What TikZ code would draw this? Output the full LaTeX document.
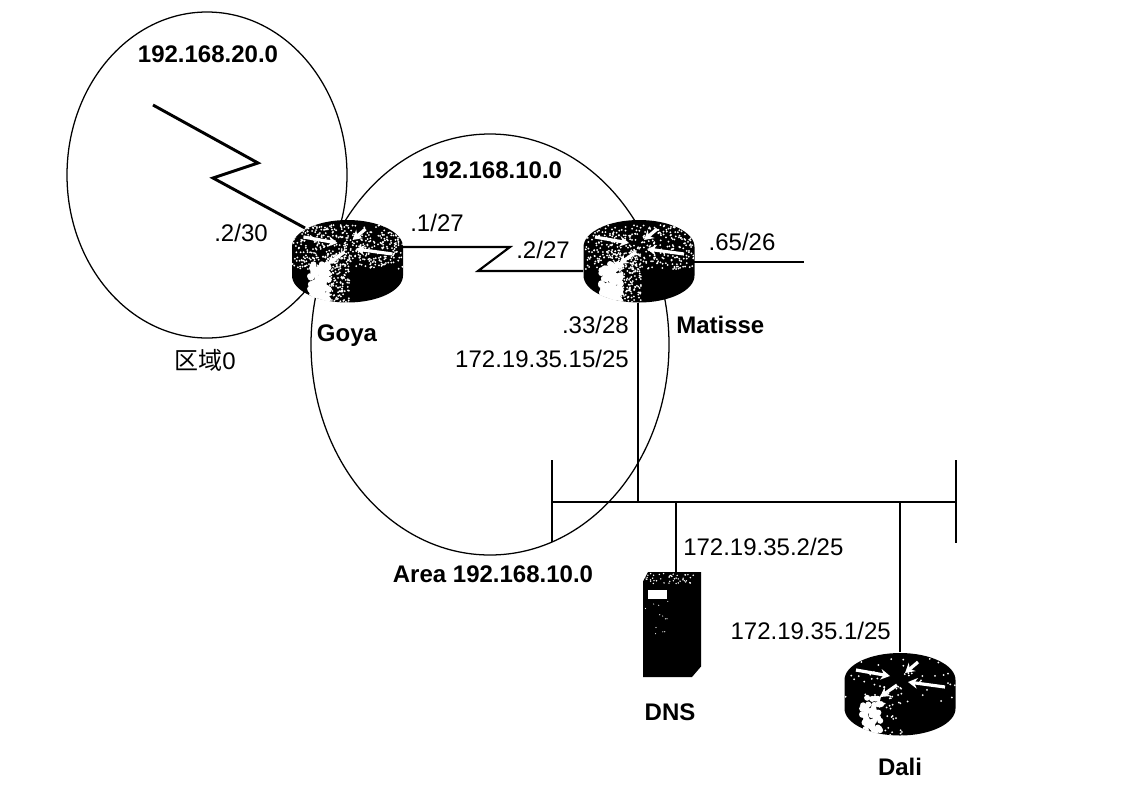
\documentclass[tikz,border=0pt]{standalone}
\usepackage{fontspec}
\setmainfont{Liberation Sans}
\newfontfamily\cjk{Noto Sans CJK SC}
\usetikzlibrary{arrows.meta}

\newcommand\routericon[4]{%
	\begin{scope}[shift={(path picture bounding box.center)},x=0.75pt,y=-0.75pt]
		\pgfmathsetseed{#4}
		%Shape: Router body
		\fill[black] (-55.5,-14) arc[start angle=180,end angle=360,x radius=55.5,y radius=27] -- (55.5,14.5) arc[start angle=0,end angle=180,x radius=55.5,y radius=27] -- cycle;
		\begin{scope}
			\clip (-55.5,-14) arc[start angle=180,end angle=360,x radius=55.5,y radius=27] -- (55.5,14.5) arc[start angle=0,end angle=180,x radius=55.5,y radius=27] -- cycle;
			%white patch at the front
			\foreach \i in {1,...,#2}{\fill[white] ({-28+rand*10},{22+rand*19}) circle (3);}
			%speckles of the top face
			\foreach \i in {1,...,#1}{\fill[white] ({rand*55},{-14+rand*22}) circle (1);}
			%speckles round the patch
			\foreach \i in {1,...,#3}{\fill[white] ({-10+rand*12},{18+rand*26}) circle (1);}
		\end{scope}
		%Arrows of the router
		\draw[routerarrow] (-44,-24) -- (-10,-18);
		\draw[routerarrow] (18,-32) -- (5,-21);
		\draw[routerarrow] (45,-7) -- (8,-12);
		\draw[routerarrow] (-3,-9) -- (-20,3);
	\end{scope}}

\tikzset{
	routerarrow/.style={white,line width=2.4pt,-{Stealth[length=7pt,width=8pt]}},
	routerbox/.style n args={4}{inner sep=0pt,minimum width=83.25pt,minimum height=62.25pt,path picture={\routericon{#1}{#2}{#3}{#4}}},
	serverbox/.style={inner sep=0pt,minimum width=43.5pt,minimum height=78.75pt,path picture={
		\begin{scope}[shift={(path picture bounding box.center)},x=0.75pt,y=-0.75pt]
			\pgfmathsetseed{42}
			\fill[black] (-29,-43) -- (-24,-52.5) -- (29,-52.5) -- (29,42) -- (20,52.5) -- (-29,52.5) -- cycle;
			\foreach \i in {1,...,45}{\fill[white] ({rand*28},{-46+rand*5}) circle (0.8);}
			\foreach \i in {1,...,14}{\fill[white] ({-16+rand*12},{-10+rand*25}) circle (0.6);}
			\fill[white] (-24,-35) rectangle (-5,-26);
		\end{scope}}},
	iplabel/.style={inner sep=0pt,font=\fontsize{18}{20}\selectfont},
	boldlabel/.style={inner sep=0pt,font=\fontsize{18}{20}\selectfont\bfseries},
	thinline/.style={line width=0.95pt},
	serialline/.style={line width=1.6pt,line join=miter},
	wanline/.style={line width=2.2pt,line join=miter}
}

\begin{document}
\begin{tikzpicture}[x=0.75pt,y=0.75pt,yscale=-1,xscale=1]
	\useasboundingbox (0,0) rectangle (1138,786);
	
	%Shape: Circle area 0
	\draw [thinline] (207,175) ellipse [x radius=140,y radius=163];
	%Shape: Circle area 192.168.10.0
	\draw [thinline] (490,344.5) ellipse [x radius=179,y radius=210.5];
	
	% Routers and server
	\node (goya) at (347.5,261) [routerbox={420}{110}{170}{7}] {};
	\node (matisse) at (639,261) [routerbox={380}{110}{150}{11}] {};
	\node (dali) at (900,694) [routerbox={50}{60}{35}{23}] {};
	\node (dns) at (672,624.5) [serverbox] {};
	
	% Corner points of the links
	\coordinate (wanstart) at (153,105);
	\coordinate (wantop) at (258,163);
	\coordinate (wanlow) at (213,178);
	\coordinate (wanend) at (305,228);
	\coordinate (goyaport) at (403,247);
	\coordinate (serialtop) at (510,247);
	\coordinate (seriallow) at (478,271);
	\coordinate (matisseport) at (583,271);
	\coordinate (stubend) at (804,262);
	\coordinate (matisseeast) at (694,262);
	
	% Ethernet segment
	\coordinate (busleft) at (552,502);
	\coordinate (busright) at (956,502);
	\coordinate (busmatisse) at (638,502);
	\coordinate (busdns) at (676,502);
	\coordinate (busdali) at (900,502);
	\coordinate (lefttop) at (552,460);
	\coordinate (leftlow) at (552,542);
	\coordinate (righttop) at (956,460);
	\coordinate (rightlow) at (956,543);
	
	%Straight Lines
	\draw [wanline] (wanstart) -- (wantop) -- (wanlow) -- (wanend);
	\draw [serialline] (goyaport) -- (serialtop) -- (seriallow) -- (matisseport);
	\draw [thinline] (matisseeast) -- (stubend);
	\draw [thinline] (busleft) -- (busright);
	\draw [thinline] (lefttop) -- (leftlow);
	\draw [thinline] (righttop) -- (rightlow);
	\draw [thinline] (matisse.south -| busmatisse) -- (busmatisse);
	\draw [thinline] (busdns) -- (busdns |- dns.north);
	\draw [thinline] (busdali) -- (dali.north);
	
	% Text Node
	\draw (208,62) node (netleft) [anchor=base,boldlabel] {192.168.20.0};
	\draw (241,241) node (ipwan) [anchor=base,iplabel] {.2/30};
	\draw (492,178) node (netmid) [anchor=base,boldlabel] {192.168.10.0};
	\draw (437,231) node (ipgoya) [anchor=base,iplabel] {.1/27};
	\draw (543,258) node (ipmatisse) [anchor=base,iplabel] {.2/27};
	\draw (742,250) node (ipstub) [anchor=base,iplabel] {.65/26};
	\draw (347,341) node (goyaname) [anchor=base,boldlabel] {Goya};
	\draw (676,333) node (matissename) [anchor=base west,boldlabel] {Matisse};
	\draw (629,333) node (ipeth) [anchor=base east,iplabel] {.33/28};
	\draw (629,367) node (ipvirtual) [anchor=base east,iplabel] {172.19.35.15/25};
	\draw (205,369) node (areazero) [anchor=base,iplabel] {{\cjk 区域}0};
	\draw (493,582) node (areaname) [anchor=base,boldlabel] {Area 192.168.10.0};
	\draw (683,555) node (ipdns) [anchor=base west,iplabel] {172.19.35.2/25};
	\draw (891,639) node (ipdali) [anchor=base east,iplabel] {172.19.35.1/25};
	\draw (670,720) node (dnsname) [anchor=base,boldlabel] {DNS};
	\draw (900,775) node (daliname) [anchor=base,boldlabel] {Dali};
	
\end{tikzpicture}
\end{document}
